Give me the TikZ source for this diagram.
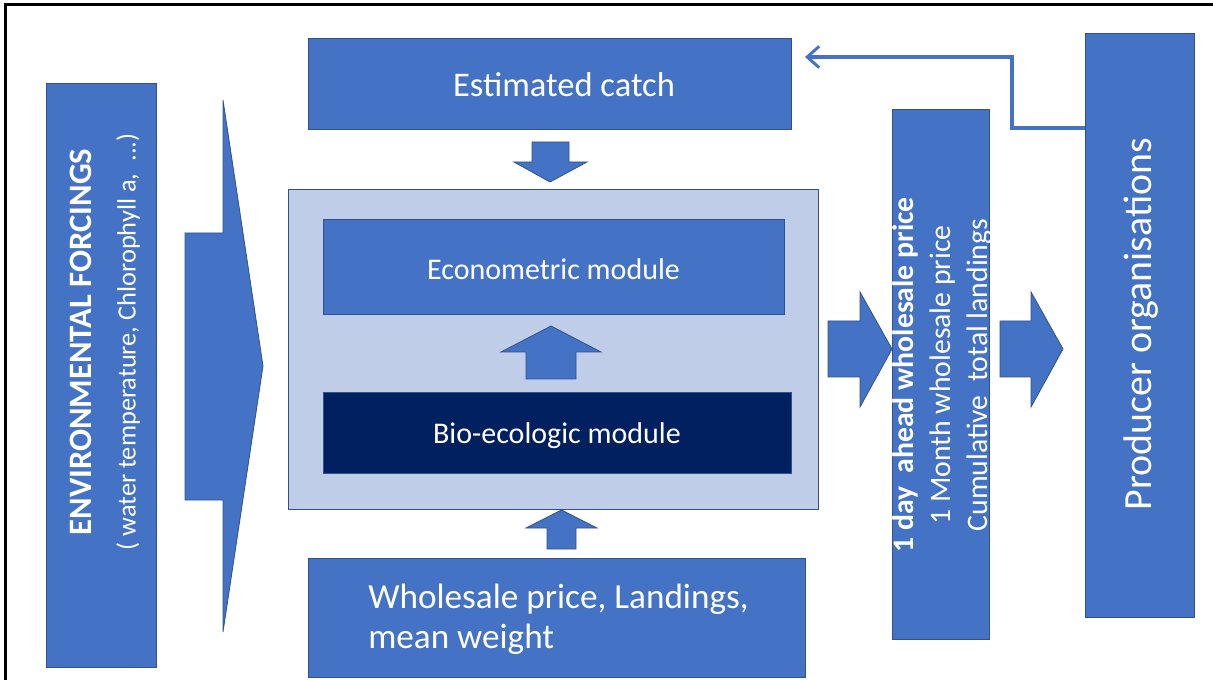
\documentclass[tikz,border=0pt]{standalone}
\usepackage{fontspec}
\setmainfont{Carlito}
\usetikzlibrary{arrows.meta}
\definecolor{mblue}{HTML}{4472C4}
\definecolor{bord}{HTML}{2F528F}
\definecolor{lightb}{RGB}{191,205,233}
\definecolor{navy}{HTML}{002060}
\tikzset{
  box/.style={draw=bord, line width=0.6pt, fill=mblue, inner sep=0pt, text=white},
  blockarrow/.style={draw=bord, line width=0.6pt, fill=mblue, line join=miter},
  wtext/.style={text=white, inner sep=0pt},
  conn/.style={draw=mblue, line width=2.4pt, -{Straight Barb[length=9pt,width=16pt,line width=2.2pt]}},
}
\begin{document}
\begin{tikzpicture}[x=0.75pt,y=-0.75pt]
\useasboundingbox (0,0) rectangle (1213,680);
% frame
\draw[line width=2.25pt] (5.5,681) -- (5.5,4.5) -- (1214,4.5);

% environmental forcings
\node[box, minimum width=82.5pt, minimum height=438pt] (env) at (101,375) {};
\node[wtext, rotate=90, align=center, font=\fontsize{19.8}{33}\selectfont] (envtext) at (105,342)
  {{\bfseries\fontsize{24.5}{33}\selectfont ENVIRONMENTAL FORCINGS}\\( water temperature, Chlorophyll a,\ \ ...)};

% big chevron arrow
\path[blockarrow] (185,233) -- (223,233) -- (223,100) -- (263,366) -- (223,632) -- (223,500) -- (185,500) -- cycle;

% estimated catch
\node[box, minimum width=362.25pt, minimum height=68.25pt] (catch) at (549.5,83.5) {};
\node[wtext, font=\fontsize{25.9}{31}\selectfont] (catchtext) at (564,85) {Estimated catch};

% down arrow
\path[blockarrow] (532,142) -- (569,142) -- (569,162) -- (587,162) -- (550,182) -- (514,162) -- (532,162) -- cycle;

% container
\node[draw=bord, line width=0.6pt, fill=lightb, minimum width=397.5pt, minimum height=240pt, inner sep=0pt] (model) at (553,349) {};
\node[box, minimum width=345.75pt, minimum height=71.25pt] (econ) at (553.5,266.5) {};
\node[wtext, font=\fontsize{22.5}{27}\selectfont] (econtext) at (553.5,269) {Econometric module};
\node[box, fill=navy, minimum width=351pt, minimum height=60.75pt] (bio) at (557,432.5) {};
\node[wtext, font=\fontsize{22.5}{27}\selectfont] (biotext) at (557,436) {Bio-ecologic module};

% inner up arrow
\path[blockarrow] (526,379) -- (576,379) -- (576,352) -- (601,352) -- (551,326) -- (501,352) -- (526,352) -- cycle;

% bottom up arrow
\path[blockarrow] (547,549) -- (576,549) -- (576,528) -- (597,528) -- (561.5,510) -- (526,528) -- (547,528) -- cycle;

% wholesale
\node[box, minimum width=372.75pt, minimum height=89.25pt] (whole) at (556.5,617.5) {};
\node[wtext, anchor=west, align=left, font=\fontsize{26.4}{30}\selectfont] (wholetext) at (368,619)
  {Wholesale price, Landings,\\mean weight};

% right arrows
\path[blockarrow] (828,321) -- (860,321) -- (860,292) -- (892,349) -- (860,407) -- (860,377) -- (828,377) -- cycle;
\path[blockarrow] (1000,321) -- (1031,321) -- (1031,292) -- (1063,349) -- (1031,407) -- (1031,377) -- (1000,377) -- cycle;

% price outputs
\node[box, minimum width=72.75pt, minimum height=397.5pt] (price) at (940.5,374) {};
\node[wtext, rotate=90, align=center, font=\fontsize{22.3}{27.75}\selectfont] (pricetext) at (943,375)
  {\textbf{1 day\ \ ahead wholesale price}\\1 Month wholesale price\\Cumulative\ \ total landings};

% producer organisations
\node[box, minimum width=81.75pt, minimum height=438pt] (prod) at (1139.5,325) {};
\node[wtext, rotate=90, font=\fontsize{29.9}{36}\selectfont] (prodtext) at (1141,324) {Producer organisations};

% feedback connector
\coordinate (fb1) at (prod.west |- 0,128);
\coordinate (fb2) at (1012,57);
\coordinate (fbtip) at (805,57);
\draw[conn] (fb1) -| (fb2) -- (fbtip);
\end{tikzpicture}
\end{document}
